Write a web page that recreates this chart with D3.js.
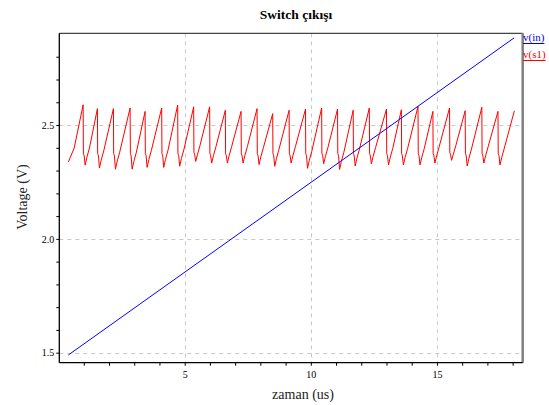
<!DOCTYPE html>
<html><head><meta charset="utf-8">
<script src="https://cdn.jsdelivr.net/npm/d3@7"></script>
<style>body{margin:0;background:#fff}svg{display:block}text{font-family:"Liberation Serif","Times New Roman",serif}</style>
</head><body><div id="chart"></div>
<script>
const title = "Switch çıkışı";
const xLabel = "zaman (us)";
const yLabel = "Voltage (V)";
const xTicks = [5, 10, 15];
const yTicks = [1.5, 2.0, 2.5];
const seriesNames = ["v(in)", "v(s1)"];
const seriesColors = ["#0000ff", "#ff0000"];

// v(in): linear ramp
const inTime = [0.39, 18.06];
const inVolt = [1.49, 2.883];

// v(s1): sawtooth
const s1Time = [0.39,0.62,
0.975,0.985,1.015,1.055,1.125,1.225,
1.541,1.551,1.581,1.621,1.691,1.791,
2.175,2.185,2.215,2.255,2.325,2.425,
2.837,2.847,2.877,2.917,2.987,3.087,
3.431,3.441,3.471,3.511,3.581,3.681,
4.089,4.099,4.129,4.169,4.239,4.339,
4.723,4.733,4.763,4.803,4.873,4.973,
5.357,5.367,5.397,5.437,5.507,5.607,
5.99,6.0,6.03,6.07,6.14,6.24,
6.612,6.622,6.652,6.692,6.762,6.862,
7.235,7.245,7.275,7.315,7.385,7.485,
7.869,7.879,7.909,7.949,8.019,8.119,
8.49,8.5,8.53,8.57,8.64,8.74,
9.14,9.15,9.18,9.22,9.29,9.39,
9.79,9.8,9.83,9.87,9.94,10.04,
10.43,10.44,10.47,10.51,10.58,10.68,
11.06,11.07,11.1,11.14,11.21,11.31,
11.68,11.69,11.72,11.76,11.83,11.93,
12.32,12.33,12.36,12.4,12.47,12.57,
13.0,13.01,13.04,13.08,13.15,13.25,
13.59,13.6,13.63,13.67,13.74,13.84,
14.25,14.26,14.29,14.33,14.4,14.5,
14.84,14.85,14.88,14.92,14.99,15.09,
15.5,15.51,15.54,15.58,15.65,15.75,
16.12,16.13,16.16,16.2,16.27,16.37,
16.78,16.79,16.82,16.86,16.93,17.03,
17.42,17.43,17.46,17.5,17.57,17.67,
18.07];
const s1Volt = [2.338,2.399,
2.589,2.375,2.365,2.324,2.359,2.399,
2.572,2.375,2.365,2.311,2.346,2.386,
2.572,2.375,2.365,2.306,2.341,2.381,
2.575,2.375,2.365,2.306,2.341,2.381,
2.560,2.375,2.365,2.314,2.349,2.389,
2.575,2.375,2.365,2.314,2.349,2.389,
2.588,2.375,2.365,2.319,2.354,2.394,
2.580,2.380,2.370,2.340,2.370,2.410,
2.580,2.375,2.365,2.333,2.365,2.405,
2.565,2.375,2.365,2.333,2.365,2.405,
2.560,2.375,2.365,2.333,2.365,2.405,
2.572,2.375,2.365,2.326,2.360,2.400,
2.550,2.375,2.365,2.319,2.354,2.394,
2.565,2.375,2.365,2.333,2.365,2.405,
2.570,2.375,2.365,2.310,2.345,2.385,
2.575,2.375,2.365,2.330,2.362,2.402,
2.570,2.375,2.365,2.305,2.340,2.380,
2.565,2.375,2.365,2.320,2.355,2.395,
2.575,2.375,2.365,2.330,2.362,2.402,
2.570,2.375,2.365,2.325,2.358,2.398,
2.567,2.375,2.365,2.325,2.358,2.398,
2.582,2.375,2.365,2.325,2.358,2.398,
2.560,2.375,2.365,2.333,2.365,2.405,
2.575,2.380,2.370,2.345,2.372,2.410,
2.563,2.375,2.365,2.320,2.355,2.395,
2.578,2.375,2.365,2.333,2.365,2.405,
2.560,2.375,2.365,2.325,2.358,2.398,
2.563];

const W = 549, H = 405;
const L = 59.3, R = 522.7, T = 33.3, B = 362.7;
const svg = d3.select("#chart").append("svg").attr("width", W).attr("height", H);
const x = d3.scaleLinear().domain([0.03, 18.40]).range([L, R]);
const y = d3.scaleLinear().domain([1.456, 2.903]).range([B, T]);

// grid
const grid = svg.append("g").attr("stroke", "#c8c8c8").attr("stroke-dasharray", "4,4").attr("stroke-width", 1);
xTicks.forEach(t => grid.append("line").attr("x1", Math.round(x(t)) + 0.5).attr("x2", Math.round(x(t)) + 0.5).attr("y1", T).attr("y2", B));
yTicks.forEach(t => grid.append("line").attr("y1", Math.round(y(t)) + 0.5).attr("y2", Math.round(y(t)) + 0.5).attr("x1", L).attr("x2", R));

// axes
const xAxis = d3.axisBottom(x).tickValues(d3.range(1, 19)).tickSize(3)
  .tickFormat(d => xTicks.includes(d) ? d : "");
const gx = svg.append("g").attr("transform", `translate(0,${B})`).call(xAxis);
gx.select(".domain").remove();
gx.selectAll("text").attr("font-size", 10).attr("dy", "0.9em").attr("font-family", "Liberation Serif");

const yAxis = d3.axisLeft(y).tickValues(d3.range(15, 29).map(v => v / 10)).tickSize(3)
  .tickFormat(d => yTicks.some(t => Math.abs(t - d) < 1e-6) ? d3.format(".1f")(d) : "");
const gy = svg.append("g").attr("transform", `translate(${L},0)`).call(yAxis);
gy.select(".domain").remove();
gy.selectAll("text").attr("font-size", 10).attr("x", -5).attr("font-family", "Liberation Serif");

// frame
svg.append("line").attr("x1", L).attr("x2", R).attr("y1", T).attr("y2", T).attr("stroke", "#444").attr("stroke-width", 1.2);
svg.append("line").attr("x1", R).attr("x2", R).attr("y1", T).attr("y2", B).attr("stroke", "#808080").attr("stroke-width", 2.5);
svg.append("line").attr("x1", L).attr("x2", L).attr("y1", T).attr("y2", B).attr("stroke", "#000").attr("stroke-width", 1.3);
svg.append("line").attr("x1", L).attr("x2", R).attr("y1", B).attr("y2", B).attr("stroke", "#000").attr("stroke-width", 1.3);

// lines
const line = d3.line().x(d => x(d[0])).y(d => y(d[1]));
svg.append("path").datum(d3.zip(s1Time, s1Volt)).attr("d", line)
  .attr("fill", "none").attr("stroke", seriesColors[1]).attr("stroke-width", 1);
svg.append("path").datum(d3.zip(inTime, inVolt)).attr("d", line)
  .attr("fill", "none").attr("stroke", seriesColors[0]).attr("stroke-width", 1);

// title & labels
svg.append("text").attr("x", 296).attr("y", 19).attr("text-anchor", "middle")
  .attr("font-size", 13.5).attr("font-weight", "bold").text(title);
svg.append("text").attr("x", 303).attr("y", 399).attr("text-anchor", "middle")
  .attr("font-size", 14).attr("fill", "#222").text(xLabel);
svg.append("text").attr("transform", "translate(27,197) rotate(-90)").attr("text-anchor", "middle")
  .attr("font-size", 14).attr("fill", "#222").text(yLabel);

// legend
const legY = [41, 58];
seriesNames.forEach((n, i) => {
  const t = svg.append("text").attr("x", 523).attr("y", legY[i]).attr("font-size", 11)
    .attr("fill", seriesColors[i]).text(n);
  const w = t.node().getComputedTextLength();
  svg.append("line").attr("x1", 523).attr("x2", 523 + w).attr("y1", legY[i] + 2.5).attr("y2", legY[i] + 2.5)
    .attr("stroke", seriesColors[i]).attr("stroke-width", 1);
});
</script></body></html>
